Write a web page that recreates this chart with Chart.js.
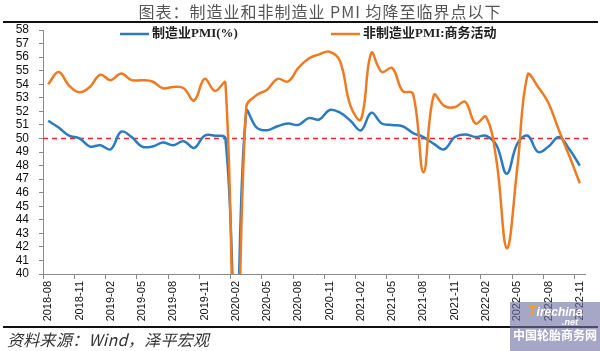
<!DOCTYPE html>
<html>
<head>
<meta charset="utf-8">
<script src="https://cdn.jsdelivr.net/npm/chart.js@4.4.1/dist/chart.umd.min.js"></script>
<style>
  html, body { margin: 0; padding: 0; background: #fff; }
  #wrap { position: relative; width: 600px; height: 351px; overflow: hidden; }
  #chart { position: absolute; left: 0; top: 0; }
  .title { position: absolute; top: 2px; left: 0; width: 640px; text-align: center; line-height: 18px;
           font: 16px "Noto Sans CJK SC", sans-serif; color: #555; letter-spacing: 1px; }
  .rule { position: absolute; left: 3px; width: 595px; height: 2px; background: #111; }
  .source { position: absolute; left: 7px; top: 330px; line-height: 18px; font: italic 16px "Noto Sans CJK SC", serif;
            color: #333; letter-spacing: 0.3px; }
  .mark { position: absolute; left: 510px; top: 302px; width: 90px; height: 49px;
          background: rgba(112, 112, 165, 0.62); color: #fff; text-align: center; }
  .mark .logo { font: italic bold 12px "Liberation Sans", sans-serif; margin-top: 3px; line-height: 12px; }
  .mark .logo span { color: #f0a020; font-size: 15px; }
  .mark .net { font: italic bold 9px "Liberation Sans", sans-serif; margin-left: 30px; line-height: 9px; }
  .mark .cn { font: bold 12px "Noto Sans CJK SC", sans-serif; line-height: 16px; }
</style>
</head>
<body>
<div id="wrap">
  <canvas id="chart" width="600" height="351"></canvas>
  <div class="title" style="line-height:18px">图表：制造业和非制造业 PMI 均降至临界点以下</div>
  <div class="rule" style="top:21px"></div>
  <div class="rule" style="top:326px"></div>
  <div class="source" style="line-height:18px">资料来源：Wind，泽平宏观</div>
  <div class="mark"><div class="logo"><span>T</span>irechina</div><div class="net">.net</div><div class="cn">中国轮胎商务网</div></div>
</div>
<script>
// 月份
const meses = [
  "2018-08","2018-09","2018-10","2018-11","2018-12",
  "2019-01","2019-02","2019-03","2019-04","2019-05","2019-06","2019-07","2019-08","2019-09","2019-10","2019-11","2019-12",
  "2020-01","2020-02","2020-03","2020-04","2020-05","2020-06","2020-07","2020-08","2020-09","2020-10","2020-11","2020-12",
  "2021-01","2021-02","2021-03","2021-04","2021-05","2021-06","2021-07","2021-08","2021-09","2021-10","2021-11","2021-12",
  "2022-01","2022-02","2022-03","2022-04","2022-05","2022-06","2022-07","2022-08","2022-09","2022-10","2022-11"
];

// 制造业PMI(%)
const pmiManufactura = [
  51.3, 50.8, 50.2, 50.0, 49.4,
  49.5, 49.2, 50.5, 50.1, 49.4, 49.4, 49.7, 49.5, 49.8, 49.3, 50.2, 50.2,
  50.0, 35.7, 52.0, 50.8, 50.6, 50.9, 51.1, 51.0, 51.5, 51.4, 52.1, 51.9,
  51.3, 50.6, 51.9, 51.1, 51.0, 50.9, 50.4, 50.1, 49.6, 49.2, 50.1, 50.3,
  50.1, 50.2, 49.5, 47.4, 49.6, 50.2, 49.0, 49.4, 50.1, 49.2, 48.0
];

// 非制造业PMI:商务活动
const pmiServicios = [
  54.0, 54.9, 53.9, 53.4, 53.8,
  54.7, 54.3, 54.8, 54.3, 54.3, 54.2, 53.7, 53.8, 53.7, 52.8, 54.4, 53.5,
  54.1, 29.6, 52.3, 53.2, 53.6, 54.4, 54.2, 55.2, 55.9, 56.2, 56.4, 55.7,
  52.4, 51.4, 56.3, 54.9, 55.2, 53.5, 53.3, 47.5, 53.2, 52.4, 52.3, 52.7,
  51.1, 51.6, 48.4, 41.9, 47.8, 54.7, 53.8, 52.6, 50.6, 48.7, 46.7
];

const nombres = ["制造业PMI(%)", "非制造业PMI:商务活动"];
const colores = ["#2b7bc1", "#ee7b22"];
const UMBRAL = 50;
const Y_MIN = 40, Y_MAX = 58;

// linea roja punteada en 50
const lineaUmbral = {
  id: "lineaUmbral",
  beforeDatasetsDraw(chart) {
    const { ctx, chartArea, scales } = chart;
    const py = scales.y.getPixelForValue(UMBRAL);
    ctx.save();
    ctx.strokeStyle = "#ff2020";
    ctx.lineWidth = 1.5;
    ctx.setLineDash([5, 4]);
    ctx.beginPath();
    ctx.moveTo(chartArea.left, py);
    ctx.lineTo(chartArea.right + 5, py);
    ctx.stroke();
    ctx.restore();
  }
};

// leyenda dentro del grafico
const leyenda = {
  id: "leyenda",
  afterDraw(chart) {
    const ctx = chart.ctx;
    const items = [{ x: 120 }, { x: 331 }];
    ctx.save();
    items.forEach((it, i) => {
      ctx.strokeStyle = colores[i];
      ctx.lineWidth = 2.5;
      ctx.beginPath();
      ctx.moveTo(it.x, 34);
      ctx.lineTo(it.x + 29, 34);
      ctx.stroke();
      ctx.fillStyle = "#222";
      ctx.font = 'bold 13px "Liberation Serif", "Noto Sans CJK SC", serif';
      ctx.textBaseline = "middle";
      ctx.fillText(nombres[i], it.x + 32, 34);
    });
    ctx.restore();
  }
};

new Chart(document.getElementById("chart"), {
  type: "line",
  data: {
    labels: meses,
    datasets: [
      { label: nombres[0], data: pmiManufactura, borderColor: colores[0], order: 1 },
      { label: nombres[1], data: pmiServicios, borderColor: colores[1], order: 0 }
    ].map(d => Object.assign(d, {
      borderWidth: 2.5, tension: 0.4, pointRadius: 0, fill: false
    }))
  },
  options: {
    responsive: false,
    animation: false,
    layout: { padding: { top: 30, bottom: 25, left: 0, right: 15 } },
    plugins: { legend: { display: false }, tooltip: { enabled: false } },
    scales: {
      x: {
        offset: true,
        border: { color: "#8a8a8a" },
        grid: {
          offset: true,
          drawOnChartArea: false,
          tickLength: 5,
          tickColor: c => (c.index % 3 === 0 ? "#8a8a8a" : "rgba(0,0,0,0)")
        },
        ticks: {
          autoSkip: false,
          minRotation: 90,
          maxRotation: 90,
          padding: 2,
          color: "#111",
          font: { family: "Liberation Sans", size: 11 },
          callback: (v, i) => (i % 3 === 0 ? meses[i] : "")
        },
        afterFit: s => { s.height = 52; }
      },
      y: {
        min: Y_MIN,
        max: Y_MAX,
        border: { color: "#8a8a8a" },
        grid: { drawOnChartArea: false, tickLength: 4, tickColor: "#8a8a8a" },
        ticks: {
          stepSize: 1,
          autoSkip: false,
          padding: 10,
          color: "#111",
          font: { family: "Liberation Sans", size: 12 }
        },
        afterFit: s => { s.width = 43; }
      }
    }
  },
  plugins: [lineaUmbral, leyenda]
});
</script>
</body>
</html>
